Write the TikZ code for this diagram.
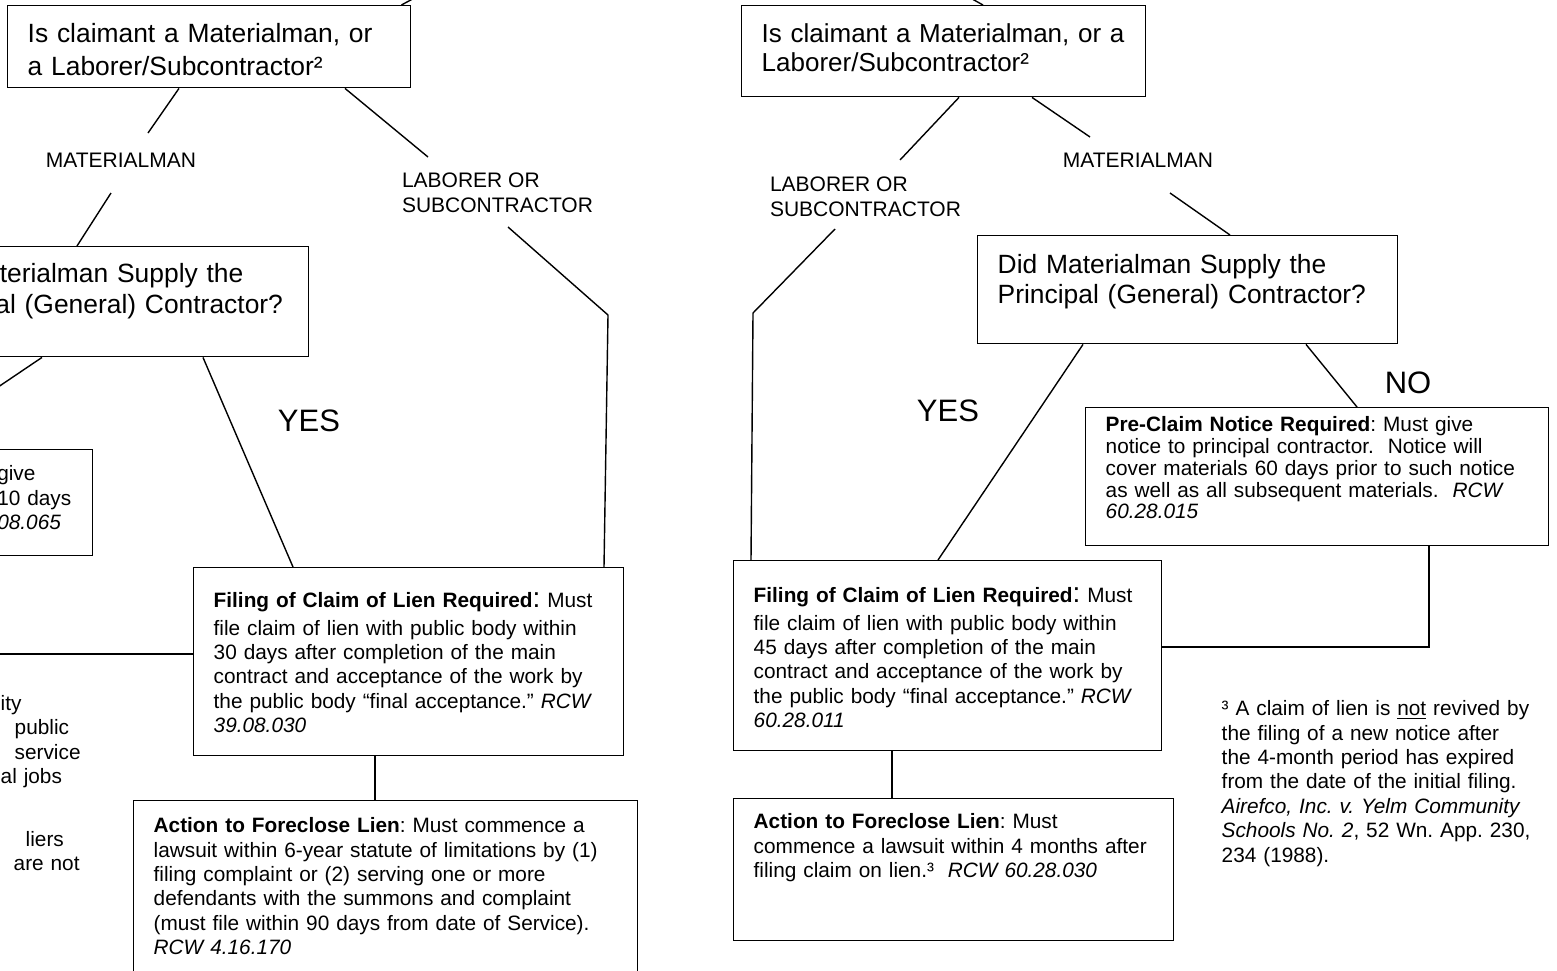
\documentclass[tikz,border=0pt]{standalone}
\usepackage{fontspec}
\setmainfont{Liberation Sans}
\usepackage{tikz}
\usetikzlibrary{positioning, calc}

\begin{document}
\frenchspacing
\begin{tikzpicture}[
    x=0.5pt, y=-0.5pt,
    line width=0.7pt,
    box/.style = {draw, align=left, anchor=north west,
                inner xsep=10pt, text height=8pt,
                font=\fontsize{10.4}{12.2}\selectfont},
    qbox/.style = {box, text height=10pt,
                font=\fontsize{13.2}{15}\selectfont},
    frag/.style = {align=left, anchor=north west, inner sep=0pt,
                text width=60pt, text height=8pt,
                font=\fontsize{10.4}{12.2}\selectfont},
    lbl/.style = {align=left, font=\fontsize{10.5}{12.5}\selectfont},
    ans/.style = {font=\fontsize{15.5}{18}\selectfont}
                    ]
\useasboundingbox (0,0) rectangle (1557,970);
\clip (0,0) rectangle (1557,970);

% left tree
\node (q1l) [qbox, text width=181.5pt, inner ysep=8.5pt, text depth=14pt,
    font=\fontsize{13.2}{16.5}\selectfont] at (7,5)
    {Is claimant a Materialman, or\\ a Laborer/Subcontractor²};
\node (matl) [lbl] at (121,160) {MATERIALMAN};
\node (labl) [lbl] at (497.5,193) {LABORER OR\\ SUBCONTRACTOR};
\node (q2l) [qbox, text width=187pt, inner ysep=7.75pt, text depth=29.5pt,
    font=\fontsize{13.2}{15.5}\selectfont] at (-106,246)
    {Did Materialman Supply the\\ Principal (General) Contractor?};
\node (yesl) [ans] at (309,421) {YES};
\node (preL) [box, anchor=north east, text width=38.5pt, inner xsep=9pt,
    inner ysep=7.5pt, text depth=30pt] at (93,449)
    {give\\ 10 days\\ \textit{08.065}};
\node (filL) [box, text width=195pt, inner ysep=12pt, text depth=62pt] at (193,567)
    {\textbf{Filing of Claim of Lien Required}{\fontsize{14}{12}\selectfont:} Must\\[1.5pt]
     file claim of lien with public body within\\
     30 days after completion of the main\\
     contract and acceptance of the work by\\
     the public body “final acceptance.” \textit{RCW}\\
     \textit{39.08.030}};
\node (critL1) [frag] at (0,693.5)
    {ity\\ \hspace*{7pt}public\\ \hspace*{7pt}service\\ al jobs};
\node (critL2) [frag] at (0,829.5)
    {\hspace*{12.5pt}liers\\ \hspace*{6.5pt}are not};
\node (actL) [box, text width=232pt, inner ysep=8pt, text depth=66pt] at (133,800)
    {\textbf{Action to Foreclose Lien}: Must commence a\\
     lawsuit within 6-year statute of limitations by (1)\\
     filing complaint or (2) serving one or more\\
     defendants with the summons and complaint\\
     (must file within 90 days from date of Service).\\
     \textit{RCW 4.16.170}};

% right tree
\node (q1r) [qbox, text width=182pt, inner ysep=8.5pt, text depth=18.5pt,
    font=\fontsize{13}{14.5}\selectfont] at (741,5)
    {Is claimant a Materialman, or a\\ Laborer/Subcontractor²};
\node (labr) [lbl] at (865.5,197) {LABORER OR\\ SUBCONTRACTOR};
\node (matr) [lbl] at (1138,160) {MATERIALMAN};
\node (q2r) [qbox, text width=190pt, inner ysep=8.75pt, text depth=26.5pt] at (977,235)
    {Did Materialman Supply the\\ Principal (General) Contractor?};
\node (yesr) [ans] at (948,411) {YES};
\node (nor) [ans] at (1408,383) {NO};
\node (pre) [box, text width=211.5pt, inner ysep=4pt, text depth=53pt,
    font=\fontsize{10.4}{10.9}\selectfont] at (1085,407)
    {\textbf{Pre-Claim Notice Required}: Must give\\
     notice to principal contractor.~ Notice will\\
     cover materials 60 days prior to such notice\\
     as well as all subsequent materials.~ \textit{RCW}\\
     \textit{60.28.015}};
\node (filR) [box, text width=194pt, inner ysep=13pt, text depth=61pt] at (733,560)
    {\textbf{Filing of Claim of Lien Required}{\fontsize{14}{12}\selectfont:} Must\\[1.5pt]
     file claim of lien with public body within\\
     45 days after completion of the main\\
     contract and acceptance of the work by\\
     the public body “final acceptance.” \textit{RCW}\\
     \textit{60.28.011}};
\node (actR) [box, text width=200pt, inner ysep=7pt, text depth=49pt] at (733,798)
    {\textbf{Action to Foreclose Lien}: Must\\
     commence a lawsuit within 4 months after\\
     filing claim on lien.³~ \textit{RCW 60.28.030}};
\node (fnote) [frag, text width=160pt] at (1221,699)
    {³ A claim of lien is \underline{not} revived by\\
     the filing of a new notice after\\
     the 4-month period has expired\\
     from the date of the initial filing.\\
     \textit{Airefco, Inc. v. Yelm Community}\\
     \textit{Schools No. 2}, 52 Wn. App. 230,\\
     234 (1988).};

% connectors, left
\coordinate (topL) at (420,-5);
\coordinate (noL) at (-30,406);
\coordinate (fromL) at (-10,654);
\coordinate (kneeL) at (608,315);
\draw ($(q1l.north east)+(-10,0)$) -- (topL);
\draw ($(q1l.south west)+(172,0)$) -- ($(matl)+(27,-27)$);
\draw ($(matl)+(-10,33)$) -- ($(q2l.north west)+(183,0)$);
\draw ($(q1l.south west)+(338,0)$) -- ($(labl)+(-69.5,-36)$);
\draw ($(labl)+(10.5,34)$) -- (kneeL) -- ($(filL.north west)+(411,0)$);
\draw ($(q2l.south west)+(148,0)$) -- (noL);
\draw ($(q2l.south west)+(309,0)$) -- ($(filL.north west)+(100,0)$);
\draw (fromL) -- ($(filL.north west)+(0,87)$);
\draw ($(filL.south west)+(182,0)$) -- ($(actL.north west)+(242,0)$);

% connectors, right
\coordinate (topR) at (965,-5);
\coordinate (kneeR) at (753,313);
\draw ($(q1r.north west)+(242,0)$) -- (topR);
\draw ($(q1r.south west)+(218,0)$) -- ($(labr)+(34.5,-37)$);
\draw ($(q1r.south west)+(291,0)$) -- ($(matr)+(-48,-23)$);
\draw ($(labr)+(-30.5,32)$) -- (kneeR) -- ($(filR.north west)+(18,0)$);
\draw ($(matr)+(32,33)$) -- ($(q2r.north west)+(253,0)$);
\draw ($(q2r.south west)+(106,0)$) -- ($(filR.north west)+(205,0)$);
\draw ($(q2r.south west)+(329,0)$) -- ($(pre.north west)+(272,0)$);
\draw ($(pre.south west)+(344,0)$) |- ($(filR.north east)+(0,87)$);
\draw ($(filR.south west)+(159,0)$) -- ($(actR.north west)+(159,0)$);

\end{tikzpicture}
\end{document}
